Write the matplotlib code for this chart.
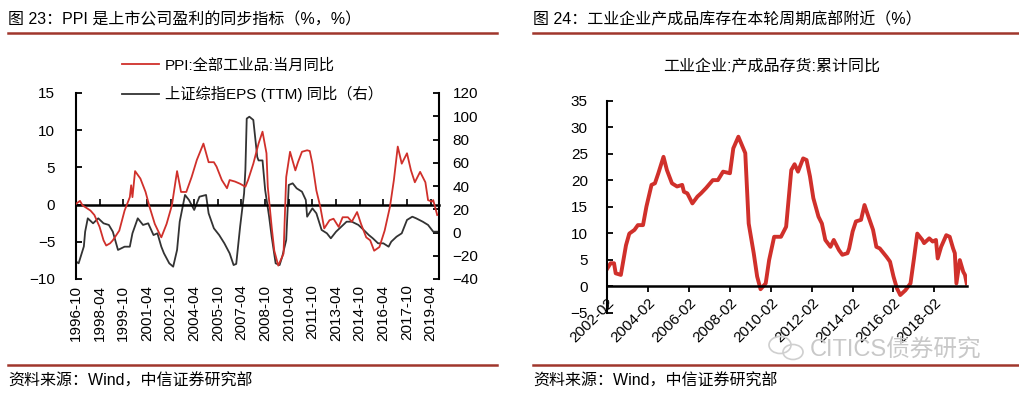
import matplotlib
matplotlib.use("Agg")
import matplotlib.pyplot as plt
import matplotlib.dates as mdates
import pandas as pd
from matplotlib.lines import Line2D
from matplotlib.patches import Ellipse

plt.rcParams["font.family"] = ["Liberation Sans", "Noto Sans CJK SC"]

# ---- 图23: PPI vs 上证综指EPS ----
ppi_dates = ["1996-10", "1997-01", "1997-03", "1997-09", "1997-12", "1998-04", "1998-07",
             "1998-09", "1998-12", "1999-02", "1999-07", "1999-11", "2000-03", "2000-04",
             "2000-05", "2000-07", "2000-11", "2001-03", "2001-06", "2001-10", "2002-02",
             "2002-03", "2002-07", "2002-11", "2003-03", "2003-06", "2003-10", "2004-02",
             "2004-06", "2004-11", "2005-03", "2005-07", "2005-09", "2006-01", "2006-05",
             "2006-07", "2006-11", "2007-03", "2007-07", "2007-09", "2008-01", "2008-05",
             "2008-08", "2008-11", "2008-12", "2009-03", "2009-05", "2009-08", "2009-12",
             "2010-02", "2010-05", "2010-09", "2010-11", "2011-02", "2011-06", "2011-08",
             "2011-10", "2012-01", "2012-04", "2012-07", "2012-11", "2013-02", "2013-06",
             "2013-09", "2014-01", "2014-04", "2014-08", "2014-11", "2015-03", "2015-06",
             "2015-09", "2016-01", "2016-05", "2016-09", "2016-12", "2017-03", "2017-06",
             "2017-10", "2018-01", "2018-04", "2018-08", "2018-12", "2019-02", "2019-05",
             "2019-06", "2019-09"]
ppi_vals = [0.1, 0.5, -0.1, -0.8, -1.4, -3.0, -4.8, -5.5, -5.2, -4.8, -3.5, -0.8, 1.0, 2.6,
            1.0, 4.5, 3.5, 1.7, -0.3, -2.6, -4.1, -4.4, -2.6, -0.1, 4.5, 1.7, 1.7, 3.7,
            6.0, 8.2, 5.7, 5.7, 5.1, 3.3, 2.2, 3.3, 3.1, 2.8, 2.4, 3.3, 5.5, 8.2,
            9.8, 6.9, 2.4, -3.0, -6.2, -8.2, -6.6, 3.7, 7.1, 4.6, 5.7, 7.1, 7.3, 7.2,
            5.5, 1.9, -0.3, -3.2, -2.1, -1.9, -3.0, -1.7, -1.7, -2.3, -1.0, -2.6, -4.4, -4.8,
            -6.2, -5.7, -3.5, -0.3, 3.3, 7.8, 5.5, 6.9, 4.6, 3.0, 4.4, 3.0, 0.6, 0.4,
            0.6, -1.4]

eps_dates = ["1996-10", "1996-12", "1997-04", "1997-05", "1997-07", "1997-11", "1998-03",
             "1998-07", "1998-11", "1999-02", "1999-06", "1999-11", "2000-03", "2000-05",
             "2000-09", "2001-01", "2001-05", "2001-09", "2001-12", "2002-03", "2002-05",
             "2002-09", "2002-12", "2003-03", "2003-05", "2003-09", "2003-12", "2004-04",
             "2004-08", "2005-01", "2005-03", "2005-07", "2005-11", "2006-03", "2006-07",
             "2006-10", "2006-12", "2007-03", "2007-06", "2007-07", "2007-08", "2007-10",
             "2008-01", "2008-04", "2008-05", "2008-08", "2008-10", "2009-01", "2009-03",
             "2009-06", "2009-09", "2009-11", "2010-02", "2010-04", "2010-07", "2010-10",
             "2011-02", "2011-05", "2011-06", "2011-10", "2012-01", "2012-05", "2012-09",
             "2012-12", "2013-04", "2013-08", "2013-12", "2014-04", "2014-09", "2015-01",
             "2015-05", "2015-08", "2015-12", "2016-04", "2016-08", "2016-10", "2017-02",
             "2017-06", "2017-10", "2018-02", "2018-05", "2018-10", "2019-02", "2019-06",
             "2019-09"]
eps_vals = [-25, -26.5, -12, 0.7, 12.2, 7.9, 12.2, 7.9, 6.5, 0.7, -15, -12.2, -12.2, -0.7,
            12.2, 6.5, 7.9, -2.2, -0.7, -12.2, -17.9, -26.5, -29.4, -15, 9.3, 32.3, 28, 19.4,
            30.8, 32.3, 16.5, 3.6, -2.2, -9.3, -17.9, -28, -27, 5, 33.7, 53.8, 98, 99.6,
            96.8, 65, 62, 62, 36.6, 13.6, -3.6, -26.5, -28, -20.8, -6.5, 40.9, 42.3, 38,
            35.1, 28, 13.6, 20.8, 16.5, 2.2, -0.7, -5, 0.7, 5, 9.3, 9.3, 6.5, 2.2,
            -2.2, -5, -9.3, -9.3, -12.2, -7.9, -3.6, -0.7, 10.8, 13.6, 12.2, 9.3, 6.5, 0.7,
            0.7]

left_ticks = ["1996-10", "1998-04", "1999-10", "2001-04", "2002-10", "2004-04", "2005-10",
              "2007-04", "2008-10", "2010-04", "2011-10", "2013-04", "2014-10", "2016-04",
              "2017-10", "2019-04"]

# ---- 图24: 工业企业产成品存货 累计同比 ----
inv_dates = ["2002-02", "2002-04", "2002-06", "2002-07", "2002-10", "2003-01", "2003-03",
             "2003-06", "2003-08", "2003-11", "2004-01", "2004-04", "2004-06", "2004-08",
             "2004-11", "2005-01", "2005-04", "2005-07", "2005-10", "2005-11", "2006-01",
             "2006-04", "2006-07", "2006-09", "2006-12", "2007-04", "2007-07", "2007-10",
             "2008-02", "2008-04", "2008-07", "2008-11", "2009-01", "2009-04", "2009-06",
             "2009-08", "2009-11", "2010-01", "2010-04", "2010-08", "2010-11", "2011-02",
             "2011-04", "2011-06", "2011-09", "2011-11", "2012-01", "2012-03", "2012-06",
             "2012-08", "2012-10", "2013-01", "2013-03", "2013-06", "2013-08", "2013-11",
             "2013-12", "2014-02", "2014-04", "2014-07", "2014-09", "2014-11", "2015-02",
             "2015-04", "2015-06", "2015-10", "2015-12", "2016-02", "2016-04", "2016-06",
             "2016-09", "2016-12", "2017-02", "2017-04", "2017-07", "2017-08", "2017-11",
             "2018-01", "2018-03", "2018-04", "2018-06", "2018-09", "2018-11", "2019-01",
             "2019-02", "2019-03", "2019-05", "2019-07", "2019-08", "2019-09"]
inv_vals = [3.3, 4.3, 4.3, 2.4, 2.1, 7.7, 9.9, 10.6, 11.5, 11.5, 15.0, 19.1, 19.4, 21.3,
            24.4, 21.9, 19.4, 18.8, 19.1, 17.8, 17.5, 15.6, 16.9, 17.5, 18.5, 20.0, 20.0, 21.6,
            21.3, 26.0, 28.2, 25.1, 11.8, 6.2, 1.8, -0.6, 0.5, 4.9, 9.3, 9.3, 11.2, 21.9,
            23.0, 21.6, 24.1, 23.8, 20.7, 16.6, 13.1, 11.8, 8.7, 7.4, 8.7, 6.8, 5.9, 6.2,
            7.1, 10.3, 12.2, 12.5, 15.3, 13.4, 10.6, 7.4, 7.1, 5.5, 4.6, 1.8, -0.4, -1.7,
            -0.8, 0.5, 5.2, 9.9, 8.7, 8.1, 9.0, 8.4, 8.7, 5.2, 7.4, 9.6, 9.3, 7.1,
            6.2, 0.5, 4.9, 2.7, 2.1, 0.5]

right_ticks = ["2002-02", "2004-02", "2006-02", "2008-02", "2010-02", "2012-02", "2014-02",
               "2016-02", "2018-02"]

RED = "#d0302b"
RULE = "#a0362c"
W, H = 1020, 396


def dnum(dates):
    return mdates.date2num(pd.to_datetime(dates))


def rect(x0, y0, x1, y1):
    # pixel box (top-left origin) -> figure fraction
    return [x0 / W, 1 - y1 / H, (x1 - x0) / W, (y1 - y0) / H]


fig = plt.figure(figsize=(W / 100, H / 100), dpi=100)

# ----- left panel -----
ax = fig.add_axes(rect(76, 93, 438.5, 279))
ax2 = ax.twinx()
l1, = ax.plot(dnum(ppi_dates), ppi_vals, color=RED, lw=1.3, zorder=3)
l2, = ax2.plot(dnum(eps_dates), eps_vals, color="#333333", lw=1.3)
ax.set_zorder(ax2.get_zorder() + 1)
ax.patch.set_visible(False)

ax.set_xlim(dnum(["1996-10"])[0], dnum(["2019-10"])[0])
ax.set_ylim(-10, 15)
ax.set_yticks(range(-10, 16, 5))
ax2.set_ylim(-40, 120)
ax2.set_yticks(range(-40, 121, 20))
ax.set_xticks(dnum(left_ticks))
ax.set_xticklabels(left_ticks, rotation=90, va="top")
ax.tick_params(axis="x", length=0, pad=4, labelsize=11)
ax.tick_params(axis="y", direction="in", length=4, width=1.3, pad=15, labelsize=11)
ax2.tick_params(axis="y", direction="in", length=4, width=1.3, pad=10, labelsize=11)
for a in (ax, ax2):
    a.spines[["top", "bottom"]].set_visible(False)
ax.spines["right"].set_visible(False)
ax.spines["left"].set_linewidth(1.5)
ax2.spines["left"].set_visible(False)
ax2.spines["right"].set_linewidth(1.5)

# zero line with upward ticks
zero = ax.secondary_xaxis(0.4)
zero.set_xticks(dnum(left_ticks))
zero.tick_params(direction="in", length=4, width=1.2, labelbottom=False, labeltop=False)
for s in zero.spines.values():
    s.set_linewidth(1.8)

fig.legend([l1, l2], ["PPI:全部工业品:当月同比", "上证综指EPS (TTM) 同比（右）"],
           loc="upper left", bbox_to_anchor=(122 / W, 1 - 58 / H),
           bbox_transform=fig.transFigure, frameon=False, fontsize=11,
           borderpad=0, borderaxespad=0, handlelength=2.4, handletextpad=0.4,
           labelspacing=0.9)

# ----- right panel -----
bx = fig.add_axes(rect(607.3, 100.7, 966.7, 312.5))
bx.plot(dnum(inv_dates), inv_vals, color=RED, lw=2.8, solid_joinstyle="round")
bx.spines[["top", "right"]].set_visible(False)
bx.spines["bottom"].set_position(("data", 0))
bx.spines["left"].set_linewidth(1.5)
bx.spines["bottom"].set_linewidth(1.8)
bx.set_xlim(dnum(["2002-02"])[0], dnum(["2019-09"])[0])
bx.set_ylim(-5, 35)
bx.set_yticks(range(-5, 36, 5))
bx.set_xticks(dnum(right_ticks))
bx.set_xticklabels(right_ticks, rotation=45, ha="right", va="top", rotation_mode="anchor")
bx.tick_params(axis="x", direction="out", length=4, width=1.3, pad=3, labelsize=11)
bx.tick_params(axis="y", direction="in", length=4, width=1.3, pad=14, labelsize=11)
fig.text(772 / W, 1 - 67 / H, "工业企业:产成品存货:累计同比", ha="center", va="center",
         fontsize=11.5)

# ----- titles, rules, sources -----
fig.text(8 / W, 1 - 20 / H, "图 23：PPI 是上市公司盈利的同步指标（%，%）",
         fontsize=11.5, va="center")
fig.text(533 / W, 1 - 20 / H, "图 24：工业企业产成品库存在本轮周期底部附近（%）",
         fontsize=11.5, va="center")
for x0, x1 in ((8, 497), (533, 1020)):
    for y in (33, 365):
        fig.add_artist(Line2D([x0 / W, x1 / W], [1 - y / H, 1 - y / H],
                              color=RULE, lw=1.8, transform=fig.transFigure))
fig.text(8 / W, 1 - 381 / H, "资料来源：Wind，中信证券研究部", fontsize=11.5, va="center")
fig.text(533 / W, 1 - 381 / H, "资料来源：Wind，中信证券研究部", fontsize=11.5, va="center")

# watermark
for cx, cy, w, h in ((780, 345, 22, 17), (793, 352, 20, 15)):
    fig.add_artist(Ellipse((cx / W, 1 - cy / H), w / W, h / H, transform=fig.transFigure,
                           fill=False, ec="#cfcfcf", lw=1.2))
fig.text(810 / W, 1 - 350 / H, "CITICS债券研究", fontsize=17, color="#c8c8c8",
         va="center", fontweight="light")

fig.savefig("out.png", dpi=100)
